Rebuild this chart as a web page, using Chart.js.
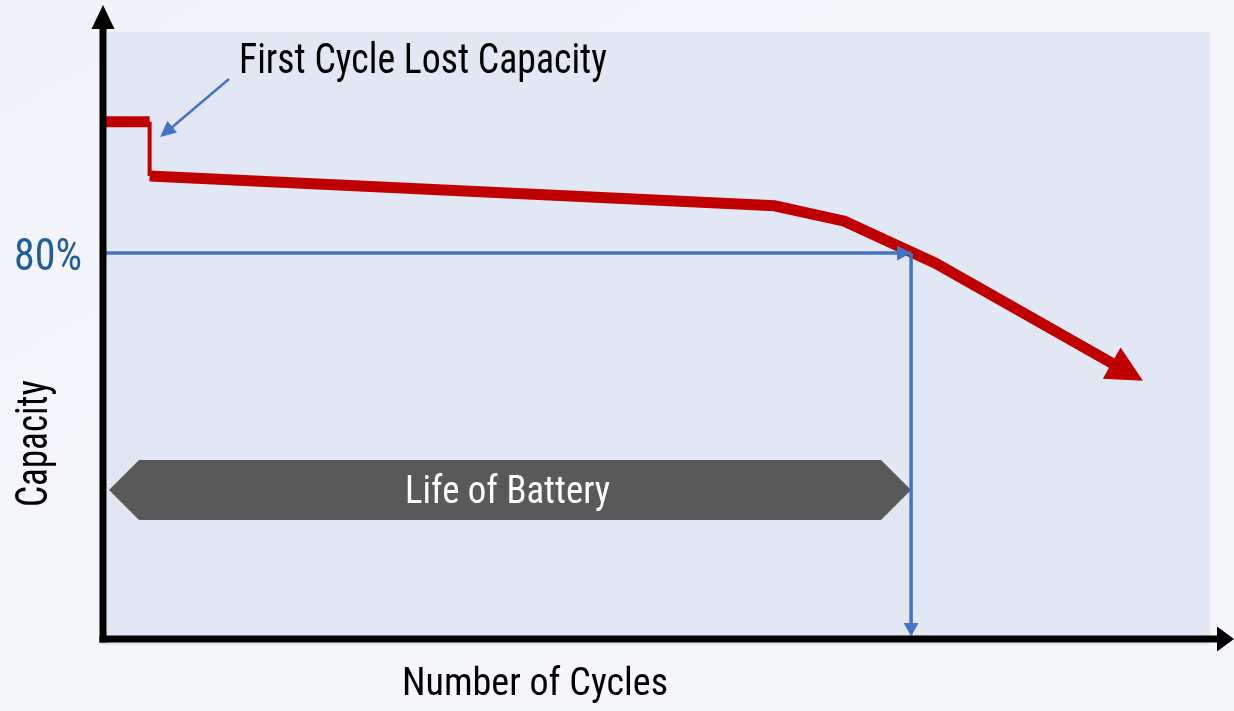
<!DOCTYPE html>
<html><head><meta charset="utf-8">
<script src="https://cdn.jsdelivr.net/npm/chart.js@4/dist/chart.umd.min.js"></script>
<style>html,body{margin:0;padding:0;background:#f5f7fb;}#wrap{width:1234px;height:711px;}</style>
</head><body><div id="wrap"><canvas id="c" width="1234" height="711"></canvas></div>
<script>
// ---- data (conceptual capacity-fade curve) ----
const capacityCycles = [0, 4.2, 4.2, 60.5, 66.8, 75.0, 90.95];
const capacityValues = [107.2, 107.2, 96.0, 89.8, 86.6, 77.9, 57.1];
const thresholdValue = 80;          // 80 % capacity
const endOfLifeCycle = 72.8;        // cycle where capacity reaches 80 %
const yTickLabels = ['80%'];
const xAxisTitle = 'Number of Cycles';
const yAxisTitle = 'Capacity';
const calloutText = 'First Cycle Lost Capacity';
const lifeText = 'Life of Battery';

const RED = '#c00000', BLUE = '#4472c4';
const FONT = '"Liberation Sans Narrow","Arial Narrow","Roboto Condensed","DejaVu Sans Condensed","Liberation Sans",sans-serif';

function fitText(ctx, text, x, y, width, size, color, rotate) {
  ctx.save();
  ctx.font = size + 'px ' + FONT;
  ctx.fillStyle = color;
  ctx.textBaseline = 'alphabetic';
  ctx.textAlign = 'left';
  const w = ctx.measureText(text).width;
  ctx.translate(x, y);
  if (rotate) ctx.rotate(-Math.PI / 2);
  ctx.scale(width / w, 1);
  ctx.fillText(text, 0, 0);
  ctx.restore();
}
function arrowHead(ctx, tx, ty, dx, dy, len, halfW, color) {
  const n = Math.hypot(dx, dy); dx /= n; dy /= n;
  const bx = tx - dx * len, by = ty - dy * len;
  ctx.save();
  ctx.fillStyle = color;
  ctx.beginPath();
  ctx.moveTo(tx, ty);
  ctx.lineTo(bx - dy * halfW, by + dx * halfW);
  ctx.lineTo(bx + dy * halfW, by - dx * halfW);
  ctx.closePath();
  ctx.fill();
  ctx.restore();
}

const deco = {
  id: 'deco',
  beforeDraw(chart) {
    const ctx = chart.ctx;
    ctx.save();
    ctx.fillStyle = '#f5f7fb';
    ctx.fillRect(0, 0, chart.width, chart.height);
    const g = ctx.createLinearGradient(0, 0, 400, 711);
    g.addColorStop(0, 'rgba(235,239,246,0.6)');
    g.addColorStop(1, 'rgba(245,247,251,0)');
    ctx.fillStyle = g; ctx.fillRect(0, 0, chart.width, chart.height);
    // plot panel
    ctx.fillStyle = '#e1e8f4';
    ctx.fillRect(100, 32, 1110, 613);
    ctx.restore();
  },
  beforeDatasetsDraw(chart) {
    const ctx = chart.ctx, xs = chart.scales.x, ys = chart.scales.y;
    // Life of Battery band
    const x0 = xs.getPixelForValue(0) + 6, x1 = xs.getPixelForValue(endOfLifeCycle);
    const cy = 490, h = 30;
    ctx.save();
    ctx.fillStyle = '#595959';
    ctx.beginPath();
    ctx.moveTo(x0, cy);
    ctx.lineTo(x0 + h, cy - h);
    ctx.lineTo(x1 - h, cy - h);
    ctx.lineTo(x1, cy);
    ctx.lineTo(x1 - h, cy + h);
    ctx.lineTo(x0 + h, cy + h);
    ctx.closePath();
    ctx.fill();
    ctx.restore();
    fitText(ctx, lifeText, 405, 503, 205, 39, '#ffffff');
  },
  afterDatasetsDraw(chart) {
    const ctx = chart.ctx, xs = chart.scales.x, ys = chart.scales.y;
    // red arrowhead at the end of the curve
    const n = capacityCycles.length;
    const px = xs.getPixelForValue(capacityCycles[n - 1]), py = ys.getPixelForValue(capacityValues[n - 1]);
    const qx = xs.getPixelForValue(capacityCycles[n - 2]), qy = ys.getPixelForValue(capacityValues[n - 2]);
    const dx = px - qx, dy = py - qy, d = Math.hypot(dx, dy);
    const L = 35;
    arrowHead(ctx, px + dx / d * L, py + dy / d * L, dx, dy, L + 1, 18, RED);
    // blue arrowheads
    const ex = xs.getPixelForValue(endOfLifeCycle), ty = ys.getPixelForValue(thresholdValue);
    arrowHead(ctx, ex, ty, 1, 0, 14, 7.5, BLUE);
    arrowHead(ctx, ex, 636, 0, 1, 13, 7.5, BLUE);
    // callout arrow
    ctx.save();
    ctx.strokeStyle = BLUE; ctx.lineWidth = 2.5;
    ctx.beginPath(); ctx.moveTo(229, 79); ctx.lineTo(170, 129); ctx.stroke();
    ctx.restore();
    arrowHead(ctx, 160, 137, -69, 58, 16, 7.5, BLUE);
    // axes
    const ax = xs.getPixelForValue(0), ay = ys.getPixelForValue(0);
    ctx.save();
    ctx.fillStyle = '#000';
    ctx.fillRect(ax - 3.5, 26, 7, ay + 3.5 - 26);
    ctx.fillRect(ax - 3.5, ay - 3.5, 1220 - ax + 3.5, 7);
    ctx.restore();
    arrowHead(ctx, ax, 5, 0, -1, 24, 11.5, '#000');
    arrowHead(ctx, 1234, ay, 1, 0, 17, 12.5, '#000');
    // texts
    fitText(ctx, calloutText, 239, 73, 368, 43, '#000');
    fitText(ctx, xAxisTitle, 402, 695, 266, 38, '#000');
    fitText(ctx, yAxisTitle, 47, 507, 127, 44, '#000', true);
    fitText(ctx, yTickLabels[0], 14, 270, 68, 44, '#1f5c99');
  }
};

new Chart(document.getElementById('c'), {
  type: 'line',
  data: {
    datasets: [
      {
        label: '80% threshold',
        data: [{x: 0, y: thresholdValue}, {x: endOfLifeCycle, y: thresholdValue}],
        borderColor: BLUE, borderWidth: 3.5, pointRadius: 0, order: 0, fill: false
      },
      {
        label: 'End of life',
        data: [{x: endOfLifeCycle, y: thresholdValue}, {x: endOfLifeCycle, y: 1}],
        borderColor: BLUE, borderWidth: 3.5, pointRadius: 0, order: 0, fill: false
      },
      {
        label: 'Capacity',
        data: capacityCycles.map((c, i) => ({x: c, y: capacityValues[i]})),
        borderColor: RED, borderWidth: 11, pointRadius: 0, order: 1, fill: false,
        borderJoinStyle: 'miter', borderCapStyle: 'butt',
        segment: {
          borderWidth: s => (s.p0DataIndex === 1 ? 4 : 11)
        }
      }
    ]
  },
  options: {
    responsive: false,
    animation: false,
    layout: {padding: {left: 103, right: 21, top: 36, bottom: 72}},
    plugins: {legend: {display: false}, tooltip: {enabled: false}},
    scales: {
      x: {type: 'linear', min: 0, max: 100, display: false},
      y: {type: 'linear', min: 0, max: 125, display: false}
    }
  },
  plugins: [deco]
});
</script>
</body></html>
